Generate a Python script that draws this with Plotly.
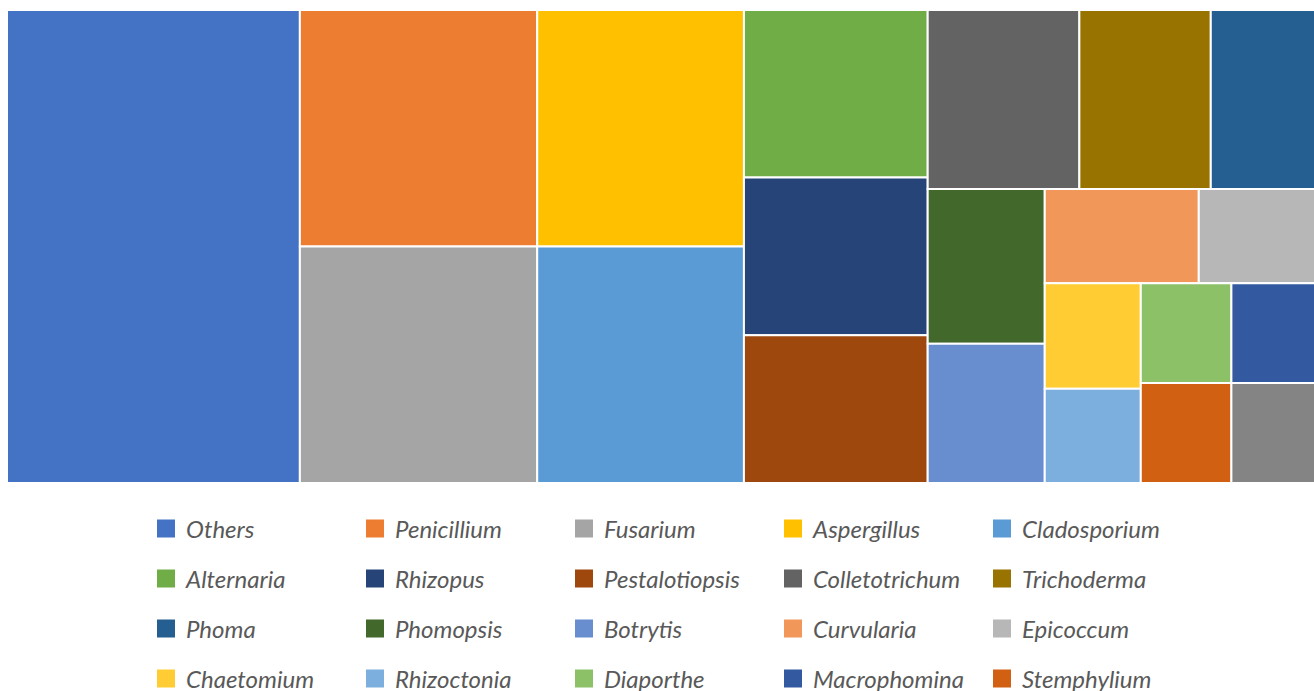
import plotly.graph_objects as go

# Data (relative sizes read from tile areas)
genera = ["Others", "Penicillium", "Fusarium", "Aspergillus", "Cladosporium",
          "Alternaria", "Rhizopus", "Pestalotiopsis", "Colletotrichum", "Trichoderma",
          "Phoma", "Phomopsis", "Botrytis", "Curvularia", "Epicoccum",
          "Chaetomium", "Rhizoctonia", "Diaporthe", "Macrophomina", "Stemphylium",
          "Nigrospora"]
counts = [76.5, 31, 31, 27, 27,
          17, 16, 15, 15, 13,
          11, 10, 9, 8, 6.4,
          5.6, 5, 5, 5, 5,
          5]
colors = ["#4472C4", "#ED7D31", "#A5A5A5", "#FFC000", "#5B9BD5",
          "#70AD47", "#264478", "#9E480E", "#636363", "#997300",
          "#255E91", "#43682B", "#698ED0", "#F1975A", "#B7B7B7",
          "#FFCD33", "#7CAFDD", "#8CC168", "#335AA1", "#D26012",
          "#848484"]

W, H = 1330, 691
ML, MR, MT, MB = 7, 8, 10, 208
plot_h = H - MT - MB
plot_w = W - ML - MR

fig = go.Figure()
fig.add_trace(go.Treemap(
    labels=genera,
    parents=[""] * len(genera),
    values=counts,
    marker=dict(colors=colors, line=dict(color="white", width=2),
                pad=dict(t=0, l=0, r=0, b=0)),
    textinfo="none",
    tiling=dict(packing="squarify", squarifyratio=1, pad=0),
    pathbar=dict(visible=False),
    sort=True,
    domain=dict(x=[0, 1], y=[0, 1]),
    hoverinfo="label+value",
))

per_row = 5
legend_keys = []
for i, (g, c) in enumerate(zip(genera, colors)):
    row = i // per_row
    key = "legend" if row == 0 else f"legend{row + 1}"
    if key not in legend_keys:
        legend_keys.append(key)
    fig.add_trace(go.Scatter(
        x=[None], y=[None], mode="markers", name=g,
        marker=dict(symbol="square", size=16, color=c, line=dict(color=c, width=2)),
        legend=key, showlegend=True, hoverinfo="skip",
    ))

row_px = [529, 579, 629, 679, 729]
legend_left_px = 146
for r, key in enumerate(legend_keys):
    fig.layout[key] = dict(
        orientation="h",
        xref="paper", yref="paper",
        x=(legend_left_px - ML) / plot_w, xanchor="left",
        y=(H - MB - row_px[r]) / plot_h, yanchor="middle",
        entrywidth=164, entrywidthmode="pixels",
        font=dict(family="Lato", size=24, color="#595959", style="italic"),
        bgcolor="rgba(0,0,0,0)", borderwidth=0,
        traceorder="normal",
    )

fig.update_layout(
    width=W, height=H,
    margin=dict(l=ML, r=MR, t=MT, b=MB, pad=0, autoexpand=False),
    paper_bgcolor="white", plot_bgcolor="white",
    xaxis=dict(visible=False), yaxis=dict(visible=False),
)

fig.write_html(
    "out.html",
    config={"displayModeBar": False},
    post_script="document.documentElement.style.overflow='hidden';"
                "document.body.style.overflow='hidden';"
                "document.body.style.margin='0';",
)
